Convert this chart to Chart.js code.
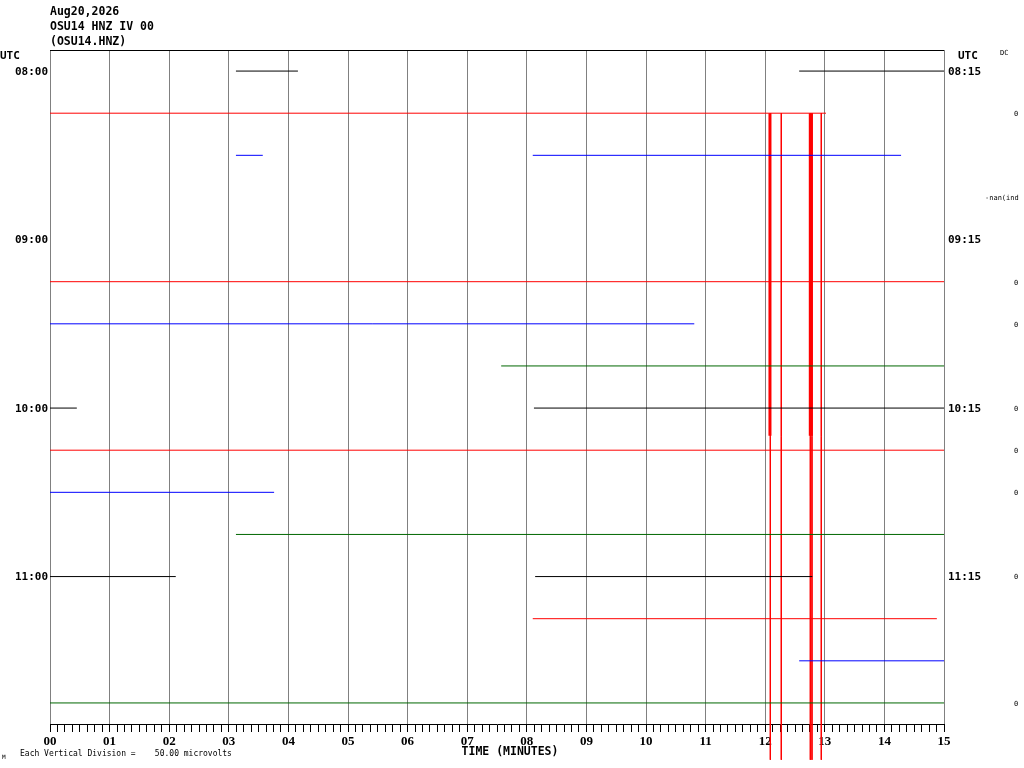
<!DOCTYPE html>
<html lang="en">
<head>
<meta charset="UTF-8">
<title>OSU14 HNZ IV 00</title>
<script src="https://cdn.jsdelivr.net/npm/chart.js"></script>
<style>
  html, body { margin: 0; padding: 0; background: #fff; }
</style>
</head>
<body>
<canvas id="heli" width="1024" height="768"></canvas>
<script>
// trace colours cycle black, red, blue, green per 15 minute row
const traceColors = ['#000000', '#ff0000', '#0000ff', '#006600'];
const minuteLabels = ['00', '01', '02', '03', '04', '05', '06', '07', '08', '09', '10', '11', '12', '13', '14', '15'];
const timeRows = [0, 4, 8, 12];
const leftTimes = ['08:00', '09:00', '10:00', '11:00'];
const rightTimes = ['08:15', '09:15', '10:15', '11:15'];
// flat trace pieces per row, [start, end] in minutes
const rowSegments = [
    [[3.12, 4.16], [12.57, 15]],
    [[0, 13.02]],
    [[3.12, 3.57], [8.10, 14.28]],
    [],
    [],
    [[0, 15]],
    [[0, 10.81]],
    [[7.57, 15]],
    [[0, 0.45], [8.12, 15]],
    [[0, 15]],
    [[0, 3.76]],
    [[3.12, 15]],
    [[0, 2.11], [8.14, 12.79]],
    [[8.10, 14.88]],
    [[12.57, 15]],
    [[0, 15]]
];
const dcLabels = ['', '0', '', '-nan(ind', '', '0', '0', '', '0', '0', '0', '', '0', '', '', '0'];
// red spikes (minutes) running from row 1 down past the axis
const spikeMinutes = [12.086, 12.270, 12.757, 12.785, 12.941];
const spikeRows = [1, 16.35];
// heavy part of the spikes
const burstMinutes = [12.08, 12.765];
const burstRows = [1, 8.66];

const datasets = [];
rowSegments.forEach((segs, row) => {
    for (let s of segs) {
        datasets.push({
            data: [{ x: s[0], y: row }, { x: s[1], y: row }],
            borderColor: traceColors[row % 4],
            borderWidth: 1
        });
    }
});
for (let m of spikeMinutes) {
    datasets.push({
        data: [{ x: m, y: spikeRows[0] }, { x: m, y: spikeRows[1] }],
        borderColor: '#ff0000',
        borderWidth: 1,
        clip: false
    });
}
burstMinutes.forEach((m, i) => {
    datasets.push({
        data: [{ x: m, y: burstRows[0] }, { x: m, y: burstRows[1] }],
        borderColor: '#ff0000',
        borderWidth: i == 0 ? 3 : 4
    });
});

const heliText = {
    id: 'heliText',
    afterDraw(chart) {
        const { ctx, chartArea: a, scales: { y } } = chart;
        ctx.save();
        ctx.strokeStyle = '#000';
        ctx.lineWidth = 1;
        ctx.beginPath();
        ctx.moveTo(a.left, a.top + 0.5);
        ctx.lineTo(a.right, a.top + 0.5);
        ctx.stroke();

        ctx.fillStyle = '#000';
        ctx.textBaseline = 'middle';
        ctx.textAlign = 'left';
        ctx.font = 'bold 11.5px "DejaVu Sans Mono"';
        ctx.fillText('Aug20,2026', a.left, a.top - 38);
        ctx.fillText('OSU14 HNZ IV 00', a.left, a.top - 23);
        ctx.fillText('(OSU14.HNZ)', a.left, a.top - 8);

        ctx.font = 'bold 11px "DejaVu Sans Mono"';
        ctx.fillText('UTC', 0, a.top + 6);
        ctx.fillText('UTC', a.right + 14, a.top + 6);
        timeRows.forEach((r, i) => {
            const py = y.getPixelForValue(r) + 1;
            ctx.textAlign = 'right';
            ctx.fillText(leftTimes[i], a.left - 2, py);
            ctx.textAlign = 'left';
            ctx.fillText(rightTimes[i], a.right + 4, py);
        });

        ctx.font = '7px "DejaVu Sans Mono"';
        ctx.textAlign = 'left';
        ctx.fillText('DC', 1000, a.top + 3);
        dcLabels.forEach((t, r) => {
            if (!t) return;
            const px = t.length > 1 ? 985 : 1014;
            ctx.fillText(t, px, y.getPixelForValue(r) + 1);
        });

        ctx.font = 'bold 11.5px "DejaVu Sans Mono"';
        ctx.textAlign = 'center';
        ctx.fillText('TIME (MINUTES)', 510, 752);
        ctx.textAlign = 'left';
        ctx.font = '8px "DejaVu Sans Mono"';
        ctx.fillText('Each Vertical Division =    50.00 microvolts', 20, 754);
        ctx.font = '6px "DejaVu Sans Mono"';
        ctx.fillText('M', 2, 757);
        ctx.restore();
    }
};

new Chart(document.getElementById('heli'), {
    type: 'scatter',
    data: { datasets: datasets },
    options: {
        responsive: false,
        devicePixelRatio: 1,
        animation: false,
        showLine: true,
        elements: { point: { radius: 0, hoverRadius: 0 }, line: { tension: 0 } },
        layout: { padding: { left: 50, right: 80, top: 50, bottom: 0 } },
        plugins: { legend: { display: false }, tooltip: { enabled: false } },
        scales: {
            x: {
                type: 'linear',
                min: 0,
                max: 15,
                afterFit: s => { s.height = 44; },
                ticks: {
                    stepSize: 0.125,
                    autoSkip: false,
                    maxRotation: 0,
                    padding: 2,
                    color: '#000',
                    font: { family: '"Liberation Serif"', size: 13, weight: 'bold' },
                    callback: v => Number.isInteger(v) ? minuteLabels[v] : ''
                },
                grid: {
                    color: c => Number.isInteger(c.tick.value) ? '#808080' : 'rgba(0,0,0,0)',
                    tickColor: '#000',
                    tickLength: 8,
                    lineWidth: 1
                },
                border: { color: '#000', width: 1 }
            },
            y: {
                type: 'linear',
                min: -0.5,
                max: 15.5,
                reverse: true,
                display: false
            }
        }
    },
    plugins: [heliText]
});
</script>
</body>
</html>
